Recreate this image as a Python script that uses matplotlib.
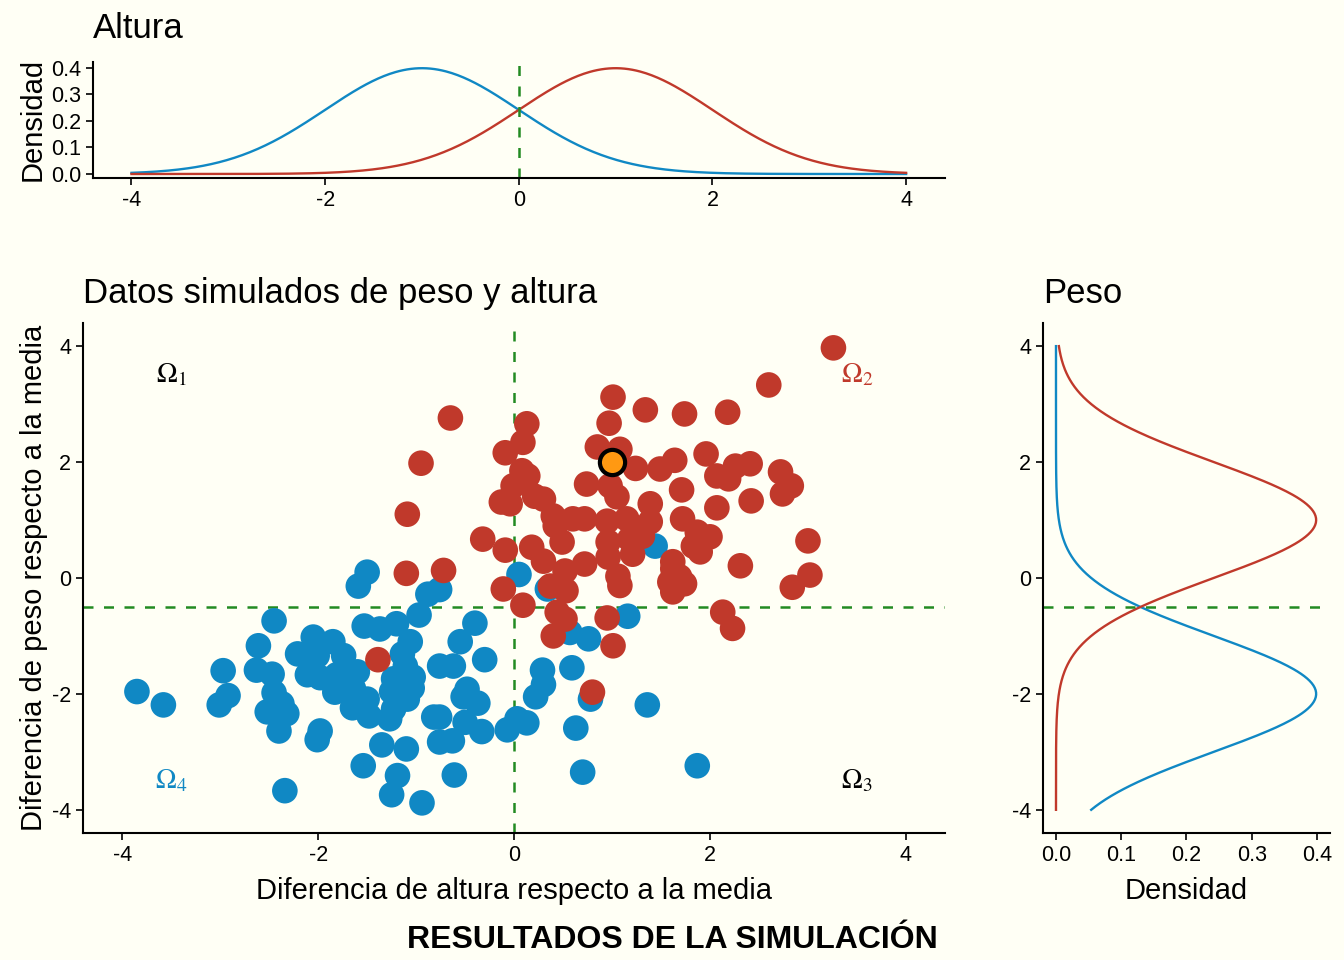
import numpy as np
import matplotlib
matplotlib.use("Agg")
import matplotlib.pyplot as plt

plt.rcParams['font.family'] = ['Liberation Sans', 'DejaVu Sans']
plt.rcParams['mathtext.fontset'] = 'stix'
plt.rcParams['axes.unicode_minus'] = False

# ---- colours ----
BG = '#FFFFF5'
BLUE = '#1088C4'
RED = '#C0392B'
GREEN = '#228B22'
ORANGE = '#FF9912'
DASH = (0, (4, 4.2))

# ---- data ----
# group 1 (red): weight / height differences
red_x = [3.26, 2.60, -0.65, 1.01, 1.34, 1.74, 2.18, 0.13, 0.97, 0.09,
         -0.09, 0.85, 1.08, 1.24, 1.49, 1.64, 1.96, 2.07, 2.19, 2.26,
         2.41, 2.72, 2.83, 2.74, 2.42, 2.07, 1.71, 0.74, 0.98, 1.05,
         0.14, 0.08, 0.21, 0.30, -0.01, -0.13, -0.04, 0.40, 0.42, 0.60,
         0.72, 0.95, 1.15, 1.39, 1.39, 1.72, 1.87, 2.00, 1.83, 1.90,
         -0.32, -0.09, 0.18, 0.49, 0.30, 0.52, 0.72, 0.96, 0.96, 1.18,
         1.31, 1.21, 1.62, 1.69, 2.31, 3.00, 3.02, -0.72, 1.06, -0.95,
         -1.09, -1.10, -1.39, 0.80, -0.11, 0.09, 0.37, 0.53, 1.08, 1.62,
         1.59, 1.74, 1.62, 2.84, 0.44, 0.52, 0.40, 0.95, 1.01, 2.13,
         2.23]
red_y = [3.97, 3.33, 2.76, 3.12, 2.90, 2.83, 2.86, 2.66, 2.67, 2.34,
         2.16, 2.26, 2.22, 1.89, 1.88, 2.03, 2.14, 1.76, 1.71, 1.93,
         1.97, 1.83, 1.59, 1.45, 1.33, 1.21, 1.52, 1.62, 1.59, 1.40,
         1.76, 1.85, 1.41, 1.36, 1.59, 1.31, 1.28, 1.07, 0.90, 1.02,
         1.02, 0.98, 1.02, 1.28, 0.97, 1.02, 0.79, 0.71, 0.55, 0.45,
         0.67, 0.48, 0.53, 0.62, 0.29, 0.12, 0.24, 0.36, 0.62, 0.67,
         0.72, 0.41, 0.28, 0.02, 0.21, 0.64, 0.05, 0.13, 0.03, 1.98,
         1.10, 0.08, -1.41, -1.97, -0.19, -0.47, -0.14, -0.22, -0.13, 0.16,
         -0.07, -0.10, -0.24, -0.16, -0.59, -0.71, -1.00, -0.69, -1.17, -0.59,
         -0.87]

# group 2 (blue)
blue_x = [-0.76, 0.05, 0.34, 1.16, 0.57, 0.76, -0.40, -0.55, -0.30, -0.62,
          -0.76, 0.29, 0.59, 0.30, 0.22, -0.48, -0.52, -0.37, 0.78, 1.36,
          -0.76, -0.50, -0.33, -0.07, 0.03, 0.13, -0.63, 0.63, -0.61, 0.70,
          1.87, -1.59, -1.50, -0.88, -2.45, -2.61, -2.97, -3.85, -3.58, -2.92,
          -3.01, -2.63, -2.47, -2.45, -2.37, -2.52, -2.32, -2.40, -2.05, -1.85,
          -2.21, -2.01, -1.74, -2.11, -1.98, -1.81, -1.60, -1.83, -1.64, -1.50,
          -1.65, -1.48, -1.98, -2.01, -1.53, -1.37, -1.20, -1.06, -0.97, -1.14,
          -1.11, -1.03, -1.23, -1.04, -1.25, -1.09, -1.23, -1.27, -1.35, -1.10,
          -0.82, -0.76, -1.54, -1.19, -1.25, -0.94, -2.34, 1.44, -1.70, -1.54]
blue_y = [-0.20, 0.06, -0.19, -0.66, -0.94, -1.05, -0.78, -1.10, -1.41, -1.52,
          -1.52, -1.59, -1.55, -1.84, -2.05, -1.92, -2.05, -2.16, -2.09, -2.19,
          -2.40, -2.49, -2.65, -2.62, -2.43, -2.50, -2.81, -2.59, -3.40, -3.35,
          -3.24, -0.14, 0.10, -0.28, -0.74, -1.17, -1.60, -1.96, -2.19, -2.03,
          -2.19, -1.59, -1.66, -1.98, -2.17, -2.31, -2.34, -2.64, -1.02, -1.10,
          -1.31, -1.34, -1.34, -1.67, -1.72, -1.67, -1.62, -1.97, -1.91, -2.09,
          -2.24, -2.38, -2.64, -2.79, -0.83, -0.88, -0.79, -1.10, -0.64, -1.31,
          -1.52, -1.71, -1.74, -1.90, -1.96, -2.09, -2.26, -2.43, -2.88, -2.95,
          -2.40, -2.83, -3.24, -3.41, -3.74, -3.88, -3.67, 0.55, -1.74, -2.14]

# highlighted individual
focus_x, focus_y = [1.0], [2.0]

# decision thresholds
cut_height = 0.0
cut_weight = -0.5

# marginal normal densities (mean, sd) per group
height_red, height_blue = (1.0, 1.0), (-1.0, 1.0)
weight_red, weight_blue = (1.0, 1.0), (-2.0, 1.0)
grid = np.linspace(-4, 4, 400)

region_labels = [r'$\Omega_1$', r'$\Omega_2$', r'$\Omega_3$', r'$\Omega_4$']
region_pos = [(-3.5, 3.5), (3.5, 3.5), (3.5, -3.5), (-3.5, -3.5)]
region_cols = ['black', RED, 'black', BLUE]


def dnorm(x, m, s):
    return np.exp(-0.5 * ((x - m) / s) ** 2) / (s * np.sqrt(2 * np.pi))


def style_axis(ax):
    ax.set_facecolor(BG)
    for side in ['top', 'right']:
        ax.spines[side].set_visible(False)
    for side in ['left', 'bottom']:
        ax.spines[side].set_linewidth(1.5)
    ax.tick_params(width=1.2, length=5, labelsize=15.5, colors='black')


fig = plt.figure(figsize=(13.44, 9.6), dpi=100, facecolor=BG)

# ---- top marginal: height ----
ax_top = fig.add_axes([0.069, 0.8146, 0.634, 0.121])
style_axis(ax_top)
ax_top.plot(grid, dnorm(grid, *height_blue), color=BLUE, lw=1.7)
ax_top.plot(grid, dnorm(grid, *height_red), color=RED, lw=1.7)
ax_top.axvline(cut_height, color=GREEN, ls=DASH, lw=1.8)
ax_top.set_xlim(-4.4, 4.4)
ax_top.set_ylim(-0.015, 0.423)
ax_top.set_xticks([-4, -2, 0, 2, 4])
ax_top.set_yticks([0.0, 0.1, 0.2, 0.3, 0.4])
ax_top.set_yticklabels(['0.0', '0.1', '0.2', '0.3', '0.4'])
ax_top.set_ylabel('Densidad', fontsize=21, labelpad=3)
ax_top.set_title('Altura', fontsize=25, loc='left', pad=17)

# ---- main scatter ----
ax = fig.add_axes([0.0618, 0.1323, 0.6414, 0.5313])
style_axis(ax)
ax.axvline(cut_height, color=GREEN, ls=DASH, lw=1.8, zorder=1)
ax.axhline(cut_weight, color=GREEN, ls=DASH, lw=1.8, zorder=1)
ax.scatter(blue_x, blue_y, s=340, color=BLUE, edgecolors='none', zorder=2)
ax.scatter(red_x, red_y, s=340, color=RED, edgecolors='none', zorder=3)
ax.scatter(focus_x, focus_y, s=330, color=ORANGE, edgecolors='black',
           linewidths=3, zorder=4)
for lab, (px, py), c in zip(region_labels, region_pos, region_cols):
    ax.text(px, py, lab, color=c, fontsize=20, ha='center', va='center')
ax.set_xlim(-4.4, 4.4)
ax.set_ylim(-4.4, 4.4)
ax.set_xticks([-4, -2, 0, 2, 4])
ax.set_yticks([-4, -2, 0, 2, 4])
ax.set_xlabel('Diferencia de altura respecto a la media', fontsize=21, labelpad=8)
ax.set_ylabel('Diferencia de peso respecto a la media', fontsize=21, labelpad=3)
ax.set_title('Datos simulados de peso y altura', fontsize=25, loc='left', pad=14)

# ---- right marginal: weight ----
ax_r = fig.add_axes([0.776, 0.1323, 0.2135, 0.5313])
style_axis(ax_r)
ax_r.plot(dnorm(grid, *weight_blue), grid, color=BLUE, lw=1.7)
ax_r.plot(dnorm(grid, *weight_red), grid, color=RED, lw=1.7)
ax_r.axhline(cut_weight, color=GREEN, ls=DASH, lw=1.8)
ax_r.set_xlim(-0.02, 0.42)
ax_r.set_ylim(-4.4, 4.4)
ax_r.set_xticks([0.0, 0.1, 0.2, 0.3, 0.4])
ax_r.set_xticklabels(['0.0', '0.1', '0.2', '0.3', '0.4'])
ax_r.set_yticks([-4, -2, 0, 2, 4])
ax_r.set_xlabel('Densidad', fontsize=21, labelpad=8)
ax_r.set_title('Peso', fontsize=25, loc='left', pad=14)

fig.text(0.698, 0.0208, 'RESULTADOS DE LA SIMULACIÓN', fontsize=23,
         fontweight='bold', ha='right', va='center')

fig.savefig('out.png', dpi=100, facecolor=BG)
